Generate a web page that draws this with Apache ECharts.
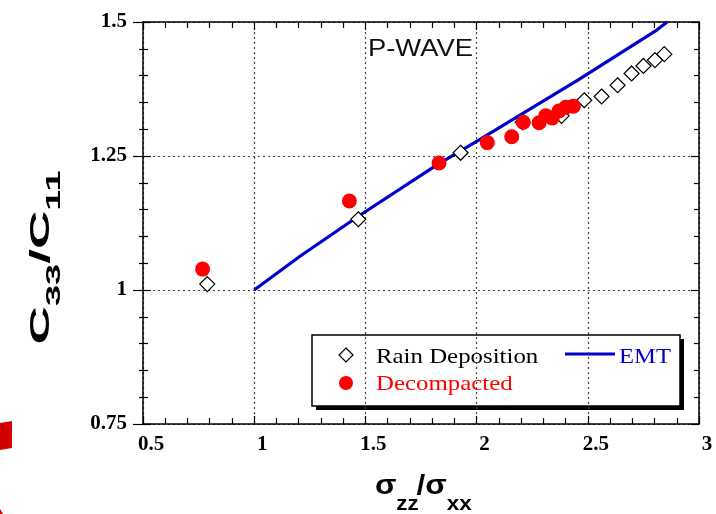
<!DOCTYPE html>
<html>
<head>
<meta charset="utf-8">
<script src="https://cdn.jsdelivr.net/npm/echarts@6/dist/echarts.min.js"></script>
<style>
  html, body { margin: 0; padding: 0; background: #fff; }
  #chart { width: 716px; height: 514px; }
</style>
</head>
<body>
<div id="chart"></div>
<script>
// 数据：应力比 vs C33/C11
var rainX = [0.789, 1.468, 1.928, 2.207, 2.382, 2.484, 2.562, 2.634, 2.697, 2.750, 2.802, 2.844];
var rainY = [1.011, 1.132, 1.256, 1.313, 1.325, 1.354, 1.361, 1.382, 1.404, 1.418, 1.429, 1.440];
var decoX = [0.768, 1.428, 1.831, 2.048, 2.158, 2.210, 2.281, 2.311, 2.340, 2.370, 2.401, 2.435];
var decoY = [1.039, 1.166, 1.237, 1.275, 1.286, 1.313, 1.312, 1.325, 1.321, 1.334, 1.341, 1.343];
var emtX = [1.0, 1.206, 1.47, 1.82, 2.015, 2.457, 2.81, 2.857];
var emtY = [1.0, 1.063, 1.138, 1.233, 1.281, 1.392, 1.485, 1.5];
var xTicks = ['0.5', '1', '1.5', '2', '2.5', '3'];
var yTicks = ['0.75', '1', '1.25', '1.5'];

function zip(a, b) {
  var out = [];
  for (var i = 0; i < a.length; i++) out.push([a[i], b[i]]);
  return out;
}
function tickFmt(list) {
  return function (v) {
    var s = String(+v.toFixed(2));
    return list.indexOf(s) >= 0 ? s : '';
  };
}

var chart = echarts.init(document.getElementById('chart'));

var tickFont = {
  fontFamily: 'Liberation Serif',
  fontWeight: 'bold',
  fontSize: 21,
  color: '#000'
};
var gridDots = { show: true, lineStyle: { color: '#444', width: 1.2, type: [2, 3] } };
var axisLine = { show: true, onZero: false, lineStyle: { color: '#000', width: 1.5 } };
var tickLine = { color: '#000', width: 1.2 };

function mkX(pos, labels) {
  return {
    type: 'value', position: pos, min: 0.5, max: 3, interval: 0.5,
    axisLine: axisLine,
    axisTick: { show: true, inside: true, length: 8, lineStyle: tickLine },
    minorTick: { show: true, splitNumber: 5, length: 6, lineStyle: tickLine },
    splitLine: labels ? gridDots : { show: false },
    axisLabel: labels ? Object.assign({ margin: 10, padding: [0, 0, 0, 16], formatter: tickFmt(xTicks) }, tickFont) : { show: false }
  };
}
function mkY(pos, labels) {
  return {
    type: 'value', position: pos, min: 0.75, max: 1.5, interval: 0.25,
    axisLine: axisLine,
    axisTick: { show: true, inside: true, length: 8, lineStyle: tickLine },
    minorTick: { show: true, splitNumber: 5, length: 5, lineStyle: tickLine },
    splitLine: labels ? gridDots : { show: false },
    axisLabel: labels ? Object.assign({ margin: 16, formatter: tickFmt(yTicks) }, tickFont) : { show: false }
  };
}
// 左轴外侧短刻度（刻度线穿过轴线）
var yOuter = {
  type: 'value', position: 'left', min: 0.75, max: 1.5, interval: 0.25,
  axisLine: { show: false },
  axisTick: { show: true, inside: false, length: 10, lineStyle: tickLine },
  minorTick: { show: true, splitNumber: 5, length: 4, lineStyle: tickLine },
  splitLine: { show: false },
  axisLabel: { show: false }
};

var mainFont = 'bold 28px Liberation Sans';
var subFont = 'bold 20px Liberation Sans';
function piece(txt, x, y, font) {
  return { type: 'text', x: x, y: y, style: { text: txt, font: font, fill: '#000', align: 'left', verticalAlign: 'middle' } };
}

var option = {
  animation: false,
  backgroundColor: '#fff',
  grid: { left: 143, right: 17, top: 22, bottom: 90 },
  xAxis: [mkX('bottom', true), mkX('top', false)],
  yAxis: [mkY('left', true), mkY('right', false), yOuter],
  series: [
    {
      name: 'EMT', type: 'line', data: zip(emtX, emtY), showSymbol: false,
      lineStyle: { color: '#0000cc', width: 3.2 }, z: 2
    },
    {
      name: 'Rain Deposition', type: 'scatter', data: zip(rainX, rainY),
      symbol: 'diamond', symbolSize: 15,
      itemStyle: { color: '#fff', borderColor: '#000', borderWidth: 1.2, opacity: 1 }, z: 3
    },
    {
      name: 'Decompacted', type: 'scatter', data: zip(decoX, decoY),
      symbol: 'circle', symbolSize: 15,
      itemStyle: { color: '#ff0000', opacity: 1 }, z: 4
    }
  ],
  graphic: [
    // P-WAVE 标注
    {
      type: 'text', x: 368, y: 50, scaleX: 1.19,
      style: { text: 'P-WAVE', font: '23px Liberation Sans', fill: '#111', align: 'left', verticalAlign: 'middle' }
    },
    // x 轴标题 σzz/σxx
    {
      type: 'group', x: 375, y: 0, scaleX: 1.12,
      children: [
        piece('σ', 0, 486.5, mainFont),
        piece('zz', 19, 504, subFont),
        piece('/σ', 37, 486.5, mainFont),
        piece('xx', 64, 504, subFont)
      ]
    },
    // y 轴标题 C33/C11（旋转）
    {
      type: 'group', x: 0, y: 257, rotation: Math.PI / 2, scaleX: 1.9,
      children: [
        piece('C', -46, 41.6, mainFont),
        piece('33', -25.8, 54, subFont),
        piece('/C', -3.6, 41.6, mainFont),
        piece('11', 24.4, 54, subFont)
      ]
    },
    // 图例
    {
      type: 'group', z: 100,
      children: [
        { type: 'rect', shape: { x: 316, y: 339, width: 368, height: 71 }, style: { fill: '#000' } },
        { type: 'rect', shape: { x: 312, y: 335, width: 368, height: 71 }, style: { fill: '#fff', stroke: '#000', lineWidth: 1.5 } },
        { type: 'polygon', shape: { points: [[346, 348], [353, 355], [346, 362], [339, 355]] }, style: { fill: '#fff', stroke: '#000', lineWidth: 1.2 } },
        { type: 'circle', shape: { cx: 346, cy: 383, r: 7 }, style: { fill: '#ff0000' } },
        { type: 'text', x: 376, y: 357, scaleX: 1.13, style: { text: 'Rain Deposition', font: '22px Liberation Serif', fill: '#000', verticalAlign: 'middle' } },
        { type: 'text', x: 376, y: 384, scaleX: 1.13, style: { text: 'Decompacted', font: '22px Liberation Serif', fill: '#ff0000', verticalAlign: 'middle' } },
        { type: 'line', shape: { x1: 565, y1: 354, x2: 615, y2: 354 }, style: { stroke: '#0000cc', lineWidth: 3 } },
        { type: 'text', x: 619, y: 357, scaleX: 1.12, style: { text: 'EMT', font: '22px Liberation Serif', fill: '#0000cc', verticalAlign: 'middle' } }
      ]
    },
    // 左下角红色残片
    { type: 'polygon', shape: { points: [[0, 423], [12, 421], [12, 448], [0, 450]] }, style: { fill: '#d40000' } },
    { type: 'polygon', shape: { points: [[0, 514], [0, 509], [3, 514]] }, style: { fill: '#d40000' } }
  ]
};
chart.setOption(option);
</script>
</body>
</html>
